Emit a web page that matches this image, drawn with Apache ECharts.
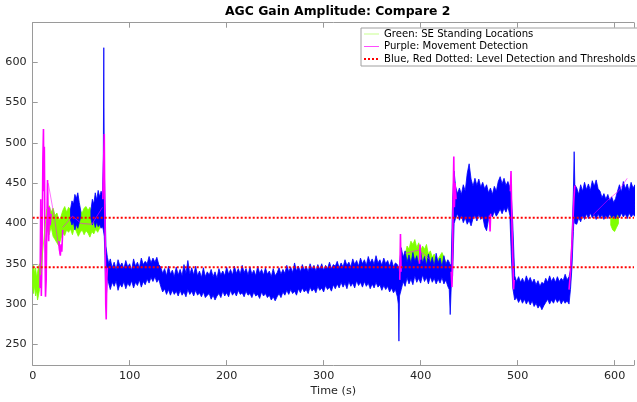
<!DOCTYPE html>
<html>
<head>
<meta charset="UTF-8">
<title>AGC Gain Amplitude: Compare 2</title>
<style>
  html, body { margin: 0; padding: 0; background: #fff; }
  #chart { width: 637px; height: 402px; }
</style>
</head>
<body>
<div id="chart"></div>
<script src="https://cdn.jsdelivr.net/npm/echarts@6/dist/echarts.min.js"></script>
<script>
// level thresholds (red dotted)
var upperLevel = 407.2;
var lowerLevel = 345.6;

// green: SE standing segments, read as time / low edge / high edge
var green1T  = [0, 1, 2, 3, 4, 5, 6, 7, 8];
var green1Hi = [342, 348, 338, 345, 333, 340, 346, 350, 338];
var green1Lo = [321, 313, 323, 310, 317, 305, 311, 318, 326];

var green2T  = [15, 17, 19, 21, 23, 25, 27, 29, 31, 33, 35, 37, 39, 41, 43, 45, 47, 49, 51, 53, 55, 57, 59, 61, 63, 65, 67, 69, 71];
var green2Hi = [418, 422, 414, 419, 410, 413, 404, 408, 416, 421, 414, 420, 417, 423, 418, 415, 420, 416, 413, 419, 421, 416, 420, 414, 418, 412, 417, 415, 420];
var green2Lo = [392, 386, 396, 384, 380, 376, 372, 381, 388, 385, 392, 389, 393, 386, 395, 390, 384, 389, 392, 386, 391, 388, 383, 390, 387, 393, 389, 394, 398];

var green3T  = [384, 386, 388, 390, 392, 394, 396, 398, 400, 402, 404, 406, 408, 410, 412, 414, 416, 418, 420, 422, 424, 426];
var green3Hi = [360, 372, 368, 378, 374, 380, 370, 376, 366, 372, 368, 374, 362, 366, 358, 362, 352, 356, 360, 364, 358, 352];
var green3Lo = [345, 342, 346, 340, 344, 341, 345, 343, 347, 342, 345, 344, 346, 343, 347, 345, 348, 344, 346, 342, 345, 348];

var green4T  = [596, 598, 600, 602, 604];
var green4Hi = [414, 418, 412, 416, 410];
var green4Lo = [398, 392, 390, 395, 400];

// blue: level detection signal envelope, piece by piece
var blueA_T  = [39, 40.5, 42, 43.5, 45, 46.5, 48, 49.5];
var blueA_Hi = [418, 428, 424, 436, 431, 438, 426, 416];
var blueA_Lo = [404, 398, 402, 392, 399, 394, 401, 408];

var blueB_T  = [60, 61.5, 63, 64.5, 66, 67.5, 69, 70.5, 72, 72.8, 73.3, 73.8, 74.5, 75.5, 77, 78.5];
var blueB_Hi = [416, 430, 424, 438, 429, 441, 433, 440, 436, 480, 618, 470, 430, 372, 358, 350];
var blueB_Lo = [406, 398, 404, 395, 402, 396, 399, 394, 396, 392, 388, 384, 360, 300, 333, 325];

var blueC_T  = [80, 82, 84, 86, 88, 90, 92, 94, 96, 98, 100, 102, 104, 106, 108, 110, 112, 114, 116, 118, 120, 122, 124, 126, 128, 130];
var blueC_Hi = [356, 345, 352, 343, 355, 347, 351, 344, 354, 346, 350, 342, 356, 347, 352, 345, 357, 349, 353, 350, 359, 351, 357, 352, 358, 349];
var blueC_Lo = [318, 327, 322, 329, 317, 325, 321, 328, 319, 326, 322, 329, 320, 327, 323, 330, 321, 328, 324, 331, 326, 333, 328, 334, 327, 331];

var blueD_T  = [132, 134, 136, 138, 140, 142, 144, 146, 148, 150, 152, 154, 156, 158, 160, 162, 164, 166, 168, 170, 172, 174, 176, 178, 180];
var blueD_Hi = [346, 338, 344, 335, 347, 337, 342, 334, 346, 336, 343, 335, 349, 338, 354, 337, 345, 336, 347, 335, 341, 333, 345, 334, 340];
var blueD_Lo = [322, 315, 319, 312, 318, 311, 317, 312, 316, 310, 317, 311, 315, 309, 318, 312, 316, 310, 317, 311, 314, 309, 315, 308, 311];

var blueE_T  = [182, 184, 186, 188, 190, 192, 194, 196, 198, 200, 202, 204, 206, 208, 210, 212, 214, 216, 218, 220, 222, 224, 226, 228, 230, 232, 234, 236, 238, 240, 242, 244, 246, 248, 250];
var blueE_Hi = [336, 343, 334, 340, 332, 344, 336, 341, 335, 346, 337, 343, 336, 347, 338, 344, 337, 348, 339, 344, 336, 346, 337, 342, 335, 347, 338, 343, 336, 345, 337, 341, 334, 344, 335];
var blueE_Lo = [313, 306, 311, 305, 310, 313, 308, 316, 310, 314, 309, 317, 311, 315, 310, 317, 312, 314, 309, 316, 311, 313, 308, 315, 310, 312, 307, 315, 310, 313, 308, 311, 305, 309, 304];

var blueF_T  = [252, 254, 256, 258, 260, 262, 264, 266, 268, 270, 272, 274, 276, 278, 280, 282, 284, 286, 288, 290, 292, 294, 296, 298, 300, 302, 304, 306, 308, 310];
var blueF_Hi = [339, 345, 337, 343, 338, 348, 340, 346, 339, 351, 341, 347, 340, 349, 342, 347, 340, 350, 343, 348, 341, 349, 343, 350, 342, 348, 344, 352, 344, 349];
var blueF_Lo = [309, 313, 308, 315, 311, 317, 312, 318, 313, 316, 311, 319, 314, 320, 315, 318, 313, 321, 316, 319, 314, 322, 317, 320, 315, 323, 318, 321, 316, 324];

var blueG_T  = [312, 314, 316, 318, 320, 322, 324, 326, 328, 330, 332, 334, 336, 338, 340, 342, 344, 346, 348, 350, 352, 354, 356, 358, 360, 362, 364, 366, 368, 370, 372, 374];
var blueG_Hi = [347, 353, 345, 351, 346, 355, 348, 352, 346, 356, 349, 354, 347, 357, 350, 355, 348, 359, 351, 356, 349, 360, 351, 355, 348, 357, 350, 354, 347, 355, 346, 351];
var blueG_Lo = [319, 325, 320, 327, 321, 326, 319, 328, 322, 326, 320, 329, 323, 327, 321, 328, 322, 326, 319, 325, 320, 327, 321, 324, 317, 323, 318, 322, 315, 320, 314, 318];

var blueH_T  = [376, 377, 377.6, 378.2, 380, 382, 384, 386, 388, 390, 392, 394, 396, 398, 400, 402, 404, 406, 408, 410, 412, 414, 416, 418, 420, 422, 424, 426, 428, 429.5, 430.5, 431.5, 433, 434.5];
var blueH_Hi = [349, 346, 340, 350, 370, 358, 366, 352, 361, 350, 364, 353, 360, 349, 365, 351, 359, 348, 362, 350, 358, 347, 363, 351, 357, 346, 360, 349, 355, 352, 348, 350, 430, 465];
var blueH_Lo = [309, 300, 254, 310, 318, 328, 322, 333, 325, 331, 324, 335, 327, 332, 326, 336, 328, 333, 325, 334, 327, 332, 325, 331, 326, 333, 325, 330, 322, 318, 287, 320, 335, 400];

var blueI_T  = [436, 438, 440, 442, 444, 446, 448, 450, 452, 454, 456, 458, 460, 462, 464, 466, 468, 470, 472, 474, 476, 478, 480, 482, 484, 486, 488, 490, 492, 493.5, 495, 497];
var blueI_Hi = [446, 437, 444, 436, 448, 440, 462, 474, 455, 446, 456, 447, 455, 445, 451, 443, 448, 438, 444, 436, 446, 440, 452, 458, 449, 456, 447, 452, 445, 435, 400, 335];
var blueI_Lo = [406, 412, 404, 410, 401, 407, 399, 404, 397, 406, 410, 403, 411, 405, 409, 396, 391, 405, 412, 408, 415, 409, 413, 418, 412, 419, 414, 421, 410, 360, 320, 305];

var blueJ_T  = [499, 501, 503, 505, 507, 509, 511, 513, 515, 517, 519, 521, 523, 525, 527, 529, 531, 533, 535, 537, 539, 541, 543, 545, 547, 549, 551, 553, 554.5, 556, 557.5, 558.3, 559];
var blueJ_Hi = [328, 334, 327, 332, 326, 335, 328, 333, 326, 331, 324, 329, 322, 327, 325, 332, 327, 335, 328, 333, 327, 334, 328, 332, 329, 337, 330, 334, 342, 380, 440, 489, 448];
var blueJ_Lo = [308, 302, 307, 301, 306, 300, 305, 299, 304, 297, 301, 295, 299, 293, 298, 302, 306, 300, 305, 301, 307, 302, 306, 300, 305, 301, 304, 300, 318, 345, 390, 410, 400];

var blueK_T  = [561, 563, 565, 567, 569, 571, 573, 575, 577, 579, 581, 583, 585, 587, 589, 591, 593, 595, 597, 599, 601, 603, 605, 607, 609, 611, 613, 615, 617, 619, 621];
var blueK_Hi = [444, 436, 448, 440, 451, 442, 449, 441, 453, 446, 454, 443, 440, 432, 437, 430, 436, 428, 433, 426, 431, 440, 448, 439, 452, 443, 449, 440, 451, 444, 448];
var blueK_Lo = [399, 407, 402, 410, 405, 412, 406, 413, 407, 411, 405, 412, 406, 411, 405, 410, 406, 412, 407, 410, 406, 412, 407, 413, 408, 412, 406, 413, 408, 411, 409];

// purple: movement detection (null = gap)
var purpleT = [7.6, 8.3, 8.9, 9.6, 10.5, 11.1, 11.5, 12.0, 12.6, 13.2, 13.9, 14.6, 15.3, 15.9, 16.5, 17.2, 18.0, 19.0, null,
  27.0, 27.8, 28.5, 29.2, 30.0, 31.0, null,
  72.3, 73.0, 73.8, 74.3, 74.8, 75.3, 75.8, 76.4, 77.0, null,
  378.5, 379.2, 379.8, null,
  398.8, 399.4, 400.0, null,
  431.5, 432.3, 433.0, 433.6, 434.2, 434.8, 435.5, 436.5, null,
  471.0, 471.6, 472.2, null,
  492.5, 493.2, 493.8, 494.5, 495.2, 495.8, 496.5, null,
  553.0, 554.0, 555.0, 556.0, 557.0, 558.0, 559.0];
var purpleV = [320, 430, 310, 360, 480, 517, 440, 495, 380, 309, 330, 400, 454, 410, 378, 420, 398, 412, null,
  378, 366, 360, 374, 365, 392, null,
  430, 470, 511, 420, 380, 300, 281, 330, 345, null,
  330, 387, 340, null,
  350, 374, 355, null,
  340, 321, 370, 440, 483, 420, 450, 430, null,
  410, 390, 412, null,
  440, 465, 420, 380, 350, 318, 330, null,
  318, 332, 352, 376, 402, 430, 447];

// thin connector lines between detections
var purpleLinkT = [16, 22, 28, null, 31, 41, 50, 61, 72, null, 384, 398, 410, null, 578, 593, 604, 613];
var purpleLinkV = [450, 410, 362, null, 395, 409, 400, 399, 420, null, 363, 367, 355, null, 411, 429, 440, 456];
var greenLinkT = [8, 14.5];
var greenLinkV = [336, 418];

var xTicks = [0, 100, 200, 300, 400, 500, 600];
var yTicks = [250, 300, 350, 400, 450, 500, 550, 600];

var GREEN = '#80ff00', BLUE = '#0000ff', PURPLE = '#ff00ff', RED = '#ff0000';
var FONT = 'DejaVu Sans';

var blueT  = [].concat(blueB_T, blueC_T, blueD_T, blueE_T, blueF_T, blueG_T, blueH_T, blueI_T, blueJ_T, blueK_T);
var blueHi = [].concat(blueB_Hi, blueC_Hi, blueD_Hi, blueE_Hi, blueF_Hi, blueG_Hi, blueH_Hi, blueI_Hi, blueJ_Hi, blueK_Hi);
var blueLo = [].concat(blueB_Lo, blueC_Lo, blueD_Lo, blueE_Lo, blueF_Lo, blueG_Lo, blueH_Lo, blueI_Lo, blueJ_Lo, blueK_Lo);

function pairs(t, v) {
  return t.map(function (x, i) {
    return x === null ? ['-', '-'] : [x, v[i]];
  });
}

// filled envelope drawn as one polygon through the axis scales
function band(t, lo, hi, color) {
  return {
    type: 'custom',
    silent: true,
    clip: true,
    data: t.map(function (x, i) { return [x, lo[i], hi[i]]; }),
    encode: { x: 0, y: [1, 2] },
    renderItem: function (params, api) {
      if (params.dataIndex !== 0) return;
      var top = [], bottom = [];
      for (var i = 0; i < t.length; i++) {
        top.push(api.coord([t[i], hi[i]]));
        bottom.unshift(api.coord([t[i], lo[i]]));
      }
      return {
        type: 'polygon',
        shape: { points: top.concat(bottom) },
        style: { fill: color, stroke: color, lineWidth: 0.8 }
      };
    }
  };
}

var chart = echarts.init(document.getElementById('chart'));

var axisGray = '#9a9a9a';
var labelColor = '#262626';

chart.setOption({
  animation: false,
  backgroundColor: '#fff',
  title: {
    text: 'AGC Gain Amplitude: Compare 2',
    left: 225,
    top: 6,
    padding: 0,
    textStyle: { fontFamily: FONT, fontSize: 12.4, fontWeight: 'bold', color: '#000' }
  },
  legend: {
    orient: 'vertical',
    left: 361,
    top: 28,
    padding: [1, 8, 2, 2],
    itemGap: 2.5,
    itemWidth: 15,
    itemHeight: 10,
    backgroundColor: '#fff',
    borderColor: '#a0a0a0',
    borderWidth: 1,
    borderRadius: 0,
    selectedMode: false,
    itemStyle: { opacity: 0 },
    textStyle: { fontFamily: FONT, fontSize: 10.1, color: '#000', lineHeight: 10 },
    data: [
      { name: 'Green: SE Standing Locations', lineStyle: { width: 1, opacity: 0.45 } },
      { name: 'Purple: Movement Detection', lineStyle: { width: 1, opacity: 0.7 } },
      'Blue, Red Dotted: Level Detection and Thresholds'
    ]
  },
  grid: { left: 32.7, top: 22.7, width: 611.6, bottom: 32.7, containLabel: false },
  xAxis: [{
    type: 'value', min: 0, max: 620, interval: 100,
    name: 'Time (s)', nameLocation: 'middle', nameGap: 19.5,
    nameTextStyle: { fontFamily: FONT, fontSize: 11.2, color: labelColor },
    axisLine: { lineStyle: { color: axisGray, width: 1 } },
    axisTick: { inside: true, length: 5, lineStyle: { color: axisGray } },
    axisLabel: {
      margin: 5, fontFamily: FONT, fontSize: 11.2, color: labelColor,
      formatter: function (v) { return xTicks.indexOf(v) >= 0 ? String(v) : ''; }
    },
    splitLine: { show: false }
  }, {
    type: 'value', position: 'top', min: 0, max: 620, interval: 100,
    axisLine: { lineStyle: { color: axisGray, width: 1 } },
    axisTick: { inside: true, length: 5, lineStyle: { color: axisGray } },
    axisLabel: { show: false },
    splitLine: { show: false }
  }],
  yAxis: {
    type: 'value', min: 224.3, max: 649, minInterval: 50, maxInterval: 50,
    axisLine: { show: true, lineStyle: { color: axisGray, width: 1 } },
    axisTick: { show: true, inside: true, length: 5, lineStyle: { color: axisGray } },
    axisLabel: {
      margin: 6, fontFamily: FONT, fontSize: 11.2, color: labelColor,
      formatter: function (v) { return yTicks.indexOf(v) >= 0 ? String(v) : ''; }
    },
    splitLine: { show: false }
  },
  series: [
    band(green1T, green1Lo, green1Hi, GREEN),
    band(green2T, green2Lo, green2Hi, GREEN),
    band(green3T, green3Lo, green3Hi, GREEN),
    band(green4T, green4Lo, green4Hi, GREEN),
    band(blueA_T, blueA_Lo, blueA_Hi, BLUE),
    band(blueT, blueLo, blueHi, BLUE),
    {
      type: 'line', symbol: 'none', silent: true,
      data: pairs(purpleT, purpleV),
      lineStyle: { color: PURPLE, width: 1.6 }
    },
    {
      name: 'Green: SE Standing Locations',
      type: 'line', symbol: 'none', silent: true,
      data: pairs(greenLinkT, greenLinkV),
      itemStyle: { color: GREEN },
      lineStyle: { color: GREEN, width: 0.7 }
    },
    {
      name: 'Purple: Movement Detection',
      type: 'line', symbol: 'none', silent: true,
      data: pairs(purpleLinkT, purpleLinkV),
      itemStyle: { color: PURPLE },
      lineStyle: { color: PURPLE, width: 0.7, opacity: 0.8 }
    },
    {
      name: 'Blue, Red Dotted: Level Detection and Thresholds',
      type: 'line', symbol: 'none', silent: true,
      data: [[0, upperLevel], [620, upperLevel]],
      itemStyle: { color: RED },
      lineStyle: { color: RED, width: 2, type: [2, 2] }
    },
    {
      name: 'Blue, Red Dotted: Level Detection and Thresholds',
      type: 'line', symbol: 'none', silent: true,
      data: [[0, lowerLevel], [620, lowerLevel]],
      itemStyle: { color: RED },
      lineStyle: { color: RED, width: 2, type: [2, 2] }
    }
  ]
});

window.addEventListener('resize', function () {
  chart.resize();
});
</script>
</body>
</html>
